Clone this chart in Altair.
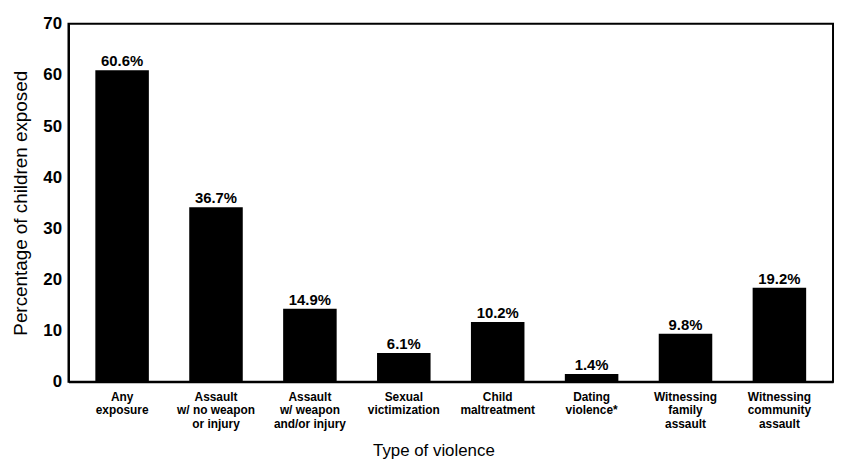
import altair as alt
import pandas as pd

categories = [
    "Any|exposure",
    "Assault|w/ no weapon|or injury",
    "Assault|w/ weapon|and/or injury",
    "Sexual|victimization",
    "Child|maltreatment",
    "Dating|violence*",
    "Witnessing|family|assault",
    "Witnessing|community|assault",
]
bar_heights = [60.9, 34.1, 14.3, 5.6, 11.7, 1.5, 9.4, 18.4]
bar_labels = ["60.6%", "36.7%", "14.9%", "6.1%", "10.2%", "1.4%", "9.8%", "19.2%"]
y_ticks = [0, 10, 20, 30, 40, 50, 60, 70]

df = pd.DataFrame({"cat": categories, "val": bar_heights, "lab": bar_labels})
FONT = "Liberation Sans"

x = alt.X(
    "cat:N",
    sort=categories,
    scale=alt.Scale(paddingInner=0.43, paddingOuter=0.286),
    axis=alt.Axis(
        title="Type of violence",
        labelExpr="split(datum.label, '|')",
        labelAngle=0,
        labelFont=FONT,
        labelFontSize=12,
        labelFontWeight="bold",
        labelLineHeight=13.5,
        labelPadding=10,
        labelColor="black",
        ticks=False,
        domainColor="black",
        domainWidth=2,
        titleFont=FONT,
        titleFontSize=17,
        titleFontWeight="normal",
        titleColor="black",
        titlePadding=13,
        titleX=368,
    ),
)
y = alt.Y(
    "val:Q",
    scale=alt.Scale(domain=[0, 70]),
    axis=alt.Axis(
        values=y_ticks,
        title="Percentage of children exposed",
        grid=False,
        ticks=False,
        domainColor="black",
        domainWidth=2,
        labelFont=FONT,
        labelFontSize=17,
        labelFontWeight="bold",
        labelColor="black",
        labelPadding=7,
        titleFont=FONT,
        titleFontSize=19,
        titleFontWeight="normal",
        titleColor="black",
        titlePadding=12,
    ),
)

bars = alt.Chart(df).mark_bar(color="black").encode(x=x, y=y)
labels = alt.Chart(df).mark_text(
    baseline="alphabetic", dy=-4, font=FONT, fontSize=15, fontWeight="bold", color="black"
).encode(x=alt.X("cat:N", sort=categories), y=alt.Y("val:Q"), text="lab:N")

chart = (
    alt.layer(bars, labels)
    .properties(
        width=771,
        height=361,
        autosize=alt.AutoSizeParams(type="none"),
        padding={"left": 61, "top": 14, "right": 2, "bottom": 78},
        background="white",
    )
    .configure_view(stroke="black", strokeWidth=2)
)

chart.save("out.html", embed_options={"renderer": "svg", "actions": False})
